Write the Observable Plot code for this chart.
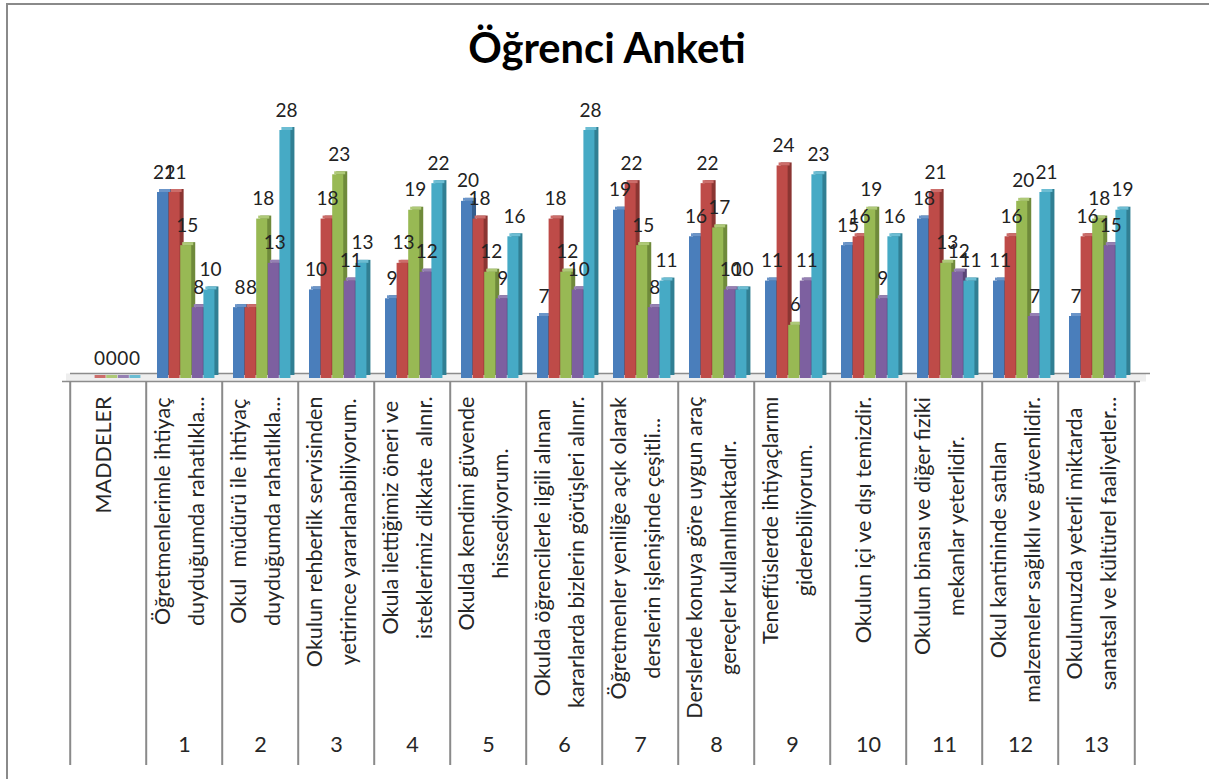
<!DOCTYPE html>
<html>
<head>
<meta charset="utf-8">
<script src="https://cdn.jsdelivr.net/npm/d3@7"></script>
<script src="https://cdn.jsdelivr.net/npm/@observablehq/plot@0.6"></script>
<style>
  html, body { margin: 0; padding: 0; background: #fff; overflow: hidden; }
  #wrap { position: relative; width: 1209px; height: 779px; overflow: hidden; }
  #frame { position: absolute; left: 6px; top: 3px; width: 1400px; height: 1000px; border: 2px solid #8a8a8a; box-sizing: border-box; }
  #title { position: absolute; left: 0; top: 22px; width: 1214px; text-align: center; font-family: Lato, sans-serif; font-weight: bold; color: #000; line-height: 50px; }
  #chart { position: absolute; left: 0; top: 0; }
</style>
</head>
<body>
<div id="wrap">
  <div id="frame"></div>
  <div id="chart"></div>
  <div id="title">Öğrenci Anketi</div>
</div>
<script>
// ---- data ----
const categories = [
  "MADDELER",
  "Öğretmenlerimle ihtiyaç\nduyduğumda rahatlıkla...",
  "Okul  müdürü ile ihtiyaç\nduyduğumda rahatlıkla...",
  "Okulun rehberlik servisinden\nyetirince yararlanabiliyorum.",
  "Okula ilettiğimiz öneri ve\nisteklerimiz dikkate  alınır.",
  "Okulda kendimi güvende\nhissediyorum.",
  "Okulda öğrencilerle ilgili alınan\nkararlarda bizlerin görüşleri alınır.",
  "Öğretmenler yeniliğe açık olarak\nderslerin işlenişinde çeşitli...",
  "Derslerde konuya göre uygun araç\ngereçler kullanılmaktadır.",
  "Teneffüslerde ihtiyaçlarımı\ngiderebiliyorum.",
  "Okulun içi ve dışı temizdir.",
  "Okulun binası ve diğer fiziki\nmekanlar yeterlidir.",
  "Okul kantininde satılan\nmalzemeler sağlıklı ve güvenlidir.",
  "Okulumuzda yeterli miktarda\nsanatsal ve kültürel faaliyetler..."
];
const itemNumbers = ["", "1", "2", "3", "4", "5", "6", "7", "8", "9", "10", "11", "12", "13"];

const series1 = [null, 21, 8, 10, 9, 20, 7, 19, 16, 11, 15, 18, 11, 7];
const series2 = [0, 21, 8, 18, 13, 18, 18, 22, 22, 24, 16, 21, 16, 16];
const series3 = [0, 15, 18, 23, 19, 12, 12, 15, 17, 6, 19, 13, 20, 18];
const series4 = [0, 8, 13, 11, 12, 9, 10, 8, 10, 11, 9, 12, 7, 15];
const series5 = [0, 10, 28, 13, 22, 16, 28, 11, 10, 23, 16, 11, 21, 19];
const allSeries = [series1, series2, series3, series4, series5];

const frontColors = ["#4a7ebb", "#be4b48", "#98b954", "#7d60a0", "#46aac5"];
const sideColors  = ["#355d8c", "#8b3532", "#6f8a3b", "#5a4577", "#317f93"];
const capColors   = ["#6b95c9", "#cc6d6a", "#aec977", "#9580b3", "#6cbdd3"];

// ---- layout ----
const W = 1209, H = 779;
const mL = 66, mR = 71, mT = 130, mB = 401;
const bw = (W - mL - mR) / categories.length;
const barStart = 11, barW = 11.6;
const lineGap = 34;
const font = "Lato";

// fit label font via measurement
const ctx = document.createElement("canvas").getContext("2d");
function measure(t, fs, weight = "normal") { ctx.font = `${weight} ${fs}px ${font}`; return ctx.measureText(t).width; }
const labelFs = 100 * 247 / measure("Okulun içi ve dışı temizdir.", 100);
const titleFs = 100 * 279 / measure("Öğrenci Anketi", 100, "bold");
document.getElementById("title").style.fontSize = titleFs + "px";

const marks = [];

// floor
marks.push(Plot.ruleY([0], {stroke: "#eeeeee", strokeWidth: 8, dy: -1, insetLeft: 0, insetRight: -8}));
marks.push(Plot.ruleY([0], {stroke: "#8c8c8c", strokeWidth: 1.5, dy: -5, insetLeft: 4, insetRight: -12}));
marks.push(Plot.ruleY([0], {stroke: "#8c8c8c", strokeWidth: 1.5, dy: 3, insetLeft: -4, insetRight: -2}));

// table vertical lines
marks.push(Plot.ruleX(categories, {x: d => d, dx: -bw / 2, stroke: "#8a8a8a", strokeWidth: 2, insetTop: 251, insetBottom: -387}));
marks.push(Plot.ruleX([categories[categories.length - 1]], {x: d => d, dx: bw / 2, stroke: "#8a8a8a", strokeWidth: 2, insetTop: 251, insetBottom: -387}));

// bars (3D look: side/back, front, top cap)
allSeries.forEach((vals, i) => {
  const rows = categories.map((c, j) => ({cat: c, value: vals[j]})).filter(d => d.value != null);
  const insetLeft = barStart + i * barW;
  const insetRight = bw - barStart - (i + 1) * barW;
  marks.push(Plot.barY(rows, {x: "cat", y: "value", fill: sideColors[i], insetLeft, insetRight, dx: 4, dy: -3}));
  marks.push(Plot.barY(rows, {x: "cat", y: "value", fill: frontColors[i], insetLeft, insetRight}));
  marks.push(Plot.barY(rows, {x: "cat", y1: "value", y2: "value", fill: capColors[i], insetLeft, insetRight, insetTop: -3, dx: 2}));
});

// data labels
allSeries.forEach((vals, i) => {
  const rows = categories.map((c, j) => ({cat: c, value: vals[j]})).filter(d => d.value != null);
  marks.push(Plot.text(rows, {
    x: "cat", y: "value", text: d => String(d.value),
    dx: barStart + (i + 0.5) * barW - bw / 2 + 1, dy: -20,
    fontSize: 19, fill: "#222"
  }));
});

// category labels (rotated, block top-aligned, lines centered on each other)
categories.forEach(c => {
  const lines = c.split("\n");
  const maxW = Math.max(...lines.map(l => measure(l, labelFs)));
  lines.forEach((line, k) => {
    marks.push(Plot.text([line], {
      x: () => c, text: d => d, frameAnchor: "bottom", rotate: -90,
      dx: (k - (lines.length - 1) / 2) * lineGap + 2, dy: 18 + maxW / 2,
      fontSize: labelFs, textAnchor: "middle", fill: "#262626"
    }));
  });
});

// item numbers
marks.push(Plot.text(itemNumbers, {
  x: (d, j) => categories[j], text: d => d, frameAnchor: "bottom", dy: 373,
  fontSize: labelFs, fill: "#262626"
}));

const chart = Plot.plot({
  width: W, height: H,
  marginLeft: mL, marginRight: mR, marginTop: mT, marginBottom: mB,
  x: {domain: categories, padding: 0, axis: null},
  y: {domain: [0, 28], axis: null},
  style: {fontFamily: font, overflow: "visible", background: "transparent"},
  marks
});
document.getElementById("chart").appendChild(chart);
</script>
</body>
</html>
